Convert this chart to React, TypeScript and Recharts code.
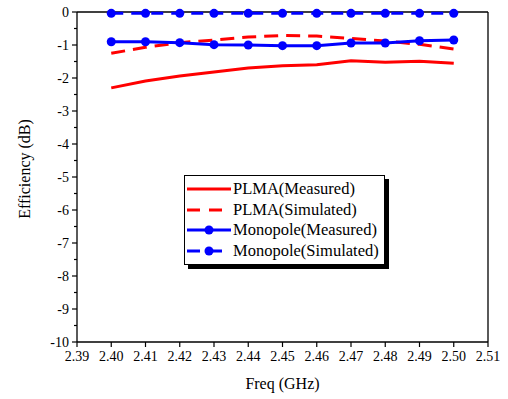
import React from 'react';
import {
  LineChart,
  Line,
  XAxis,
  YAxis,
  ReferenceLine,
} from 'recharts';

const freq = [2.4, 2.41, 2.42, 2.43, 2.44, 2.45, 2.46, 2.47, 2.48, 2.49, 2.5];
const plmaMeasured = [-2.3, -2.09, -1.94, -1.82, -1.7, -1.63, -1.6, -1.48, -1.52, -1.49, -1.55];
const plmaSimulated = [-1.25, -1.07, -0.93, -0.85, -0.76, -0.71, -0.73, -0.8, -0.88, -0.98, -1.12];
const monoMeasured = [-0.9, -0.9, -0.93, -0.99, -1.0, -1.02, -1.02, -0.94, -0.94, -0.87, -0.85];
const monoSimulated = [-0.04, -0.04, -0.04, -0.04, -0.04, -0.04, -0.04, -0.04, -0.04, -0.04, -0.04];

const xTicks = [2.39, 2.4, 2.41, 2.42, 2.43, 2.44, 2.45, 2.46, 2.47, 2.48, 2.49, 2.5, 2.51];
const yTicks = [-10, -9.5, -9, -8.5, -8, -7.5, -7, -6.5, -6, -5.5, -5, -4.5, -4, -3.5, -3, -2.5, -2, -1.5, -1, -0.5, 0];

const SERIES = [
  { key: 'plmaMeasured', name: 'PLMA(Measured)', color: '#ff0000', dash: undefined, dot: false },
  { key: 'plmaSimulated', name: 'PLMA(Simulated)', color: '#ff0000', dash: '14 8', dot: false },
  { key: 'monoMeasured', name: 'Monopole(Measured)', color: '#0000ff', dash: undefined, dot: true },
  { key: 'monoSimulated', name: 'Monopole(Simulated)', color: '#0000ff', dash: '12 8', dot: true },
];

const data = freq.map((f, i) => ({
  freq: f,
  plmaMeasured: plmaMeasured[i],
  plmaSimulated: plmaSimulated[i],
  monoMeasured: monoMeasured[i],
  monoSimulated: monoSimulated[i],
}));

const FONT = '"Liberation Serif", "Times New Roman", serif';
const TICK_MARGIN = 8;

const YTick = (props: any) => {
  const { x, y, payload } = props;
  const v = payload.value;
  const major = Number.isInteger(v);
  const axisX = x + TICK_MARGIN;
  return (
    <g>
      <line x1={axisX} x2={axisX - (major ? 5 : 3)} y1={y} y2={y} stroke="#000" strokeWidth={1.2} />
      {major && (
        <text x={x} y={y} dy="0.35em" textAnchor="end" fontSize={14} fontFamily={FONT} fill="#000">
          {v}
        </text>
      )}
    </g>
  );
};

// legend drawn as an overlay so it doesn't eat plot space
const LegendBox = () => (
  <div
    style={{
      position: 'absolute',
      left: 184,
      top: 175,
      border: '1px solid #000',
      boxShadow: '4px 4px 0 #000',
      background: '#fff',
      padding: '3px 5px 3px 2px',
      fontFamily: FONT,
      fontSize: 16.5,
      lineHeight: '20.5px',
    }}
  >
    {SERIES.map((s) => (
      <div key={s.key} style={{ display: 'flex', alignItems: 'center' }}>
        <svg width={44} height={12} style={{ marginRight: 2 }}>
          <line
            x1={0}
            x2={44}
            y1={6}
            y2={6}
            stroke={s.color}
            strokeWidth={3}
            strokeDasharray={s.dash ? '13 9' : undefined}
          />
          {s.dot && <circle cx={22} cy={6} r={4.5} fill={s.color} />}
        </svg>
        <span>{s.name}</span>
      </div>
    ))}
  </div>
);

export default function App() {
  return (
    <div style={{ position: 'absolute', left: 0, top: 0, width: 508, height: 399, background: '#fff' }}>
      <LineChart
        width={508}
        height={399}
        data={data}
        margin={{ top: 12, right: 20, left: 0, bottom: 0 }}
      >
        <XAxis
          dataKey="freq"
          type="number"
          domain={[2.39, 2.51]}
          ticks={xTicks}
          tickFormatter={(v: number) => v.toFixed(2)}
          height={57}
          tickSize={5}
          tickMargin={4}
          axisLine={{ stroke: '#000', strokeWidth: 1.3 }}
          tickLine={{ stroke: '#000', strokeWidth: 1.2 }}
          tick={{ fontSize: 14, fontFamily: FONT, fill: '#000' }}
          interval={0}
          label={{
            value: 'Freq (GHz)',
            position: 'insideBottom',
            offset: 10,
            fontSize: 16,
            fontFamily: FONT,
            fill: '#000',
          }}
        />
        <YAxis
          type="number"
          domain={[-10, 0]}
          ticks={yTicks}
          width={77}
          tickSize={0}
          tickMargin={TICK_MARGIN}
          tickLine={false}
          interval={0}
          axisLine={{ stroke: '#000', strokeWidth: 1.3 }}
          tick={YTick}
          label={{
            value: 'Efficiency (dB)',
            angle: -90,
            position: 'insideLeft',
            offset: 24,
            dy: -8,
            fontSize: 16,
            fontFamily: FONT,
            fill: '#000',
            style: { textAnchor: 'middle' },
          }}
        />
        <ReferenceLine y={0} stroke="#000" strokeWidth={1.3} />
        <ReferenceLine x={2.51} stroke="#000" strokeWidth={1.3} />
        {SERIES.map((s) => (
          <Line
            key={s.key}
            dataKey={s.key}
            name={s.name}
            type="linear"
            stroke={s.color}
            strokeWidth={3}
            strokeDasharray={s.dash}
            dot={s.dot ? { r: 4.5, fill: s.color, stroke: s.color, strokeWidth: 0 } : false}
            isAnimationActive={false}
          />
        ))}
      </LineChart>
      <LegendBox />
    </div>
  );
}
